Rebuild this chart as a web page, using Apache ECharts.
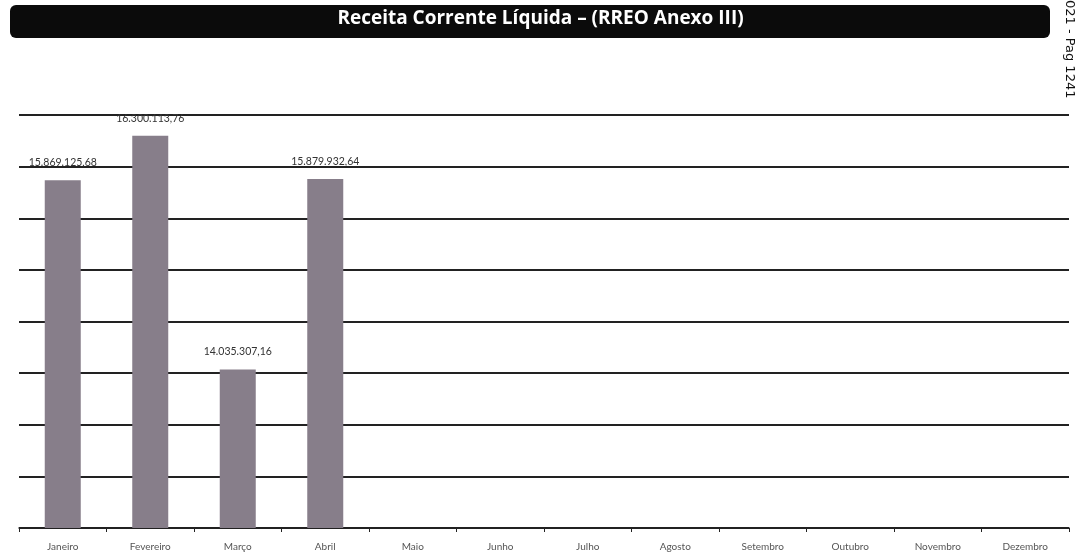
<!DOCTYPE html>
<html>
<head>
<meta charset="utf-8">
<title>Receita Corrente Líquida</title>
<script src="https://cdn.jsdelivr.net/npm/echarts@6/dist/echarts.min.js"></script>
<style>
  html, body { margin: 0; padding: 0; background: #fff; }
  #chart { width: 1081px; height: 556px; }
</style>
</head>
<body>
<div id="chart"></div>
<script>
// dados (RCL mensal)
var meses = ['Janeiro', 'Fevereiro', 'Março', 'Abril', 'Maio', 'Junho', 'Julho', 'Agosto', 'Setembro', 'Outubro', 'Novembro', 'Dezembro']
var receita = [15869125.68, 16300113.76, 14035307.16, 15879932.64, null, null, null, null, null, null, null, null]
var eixoMin = 12500000
var eixoMax = 16500000
var eixoPasso = 500000

function formatBR(v) {
  var parts = v.toFixed(2).split('.')
  return parts[0].replace(/\B(?=(\d{3})+(?!\d))/g, '.') + ',' + parts[1]
}

var chart = echarts.init(document.getElementById('chart'))

chart.setOption({
  animation: false,
  backgroundColor: '#fff',
  graphic: [
    {
      type: 'rect',
      left: 10,
      top: 5,
      shape: { width: 1040, height: 33, r: 6 },
      style: { fill: '#0b0b0b' }
    },
    {
      type: 'text',
      left: 'center',
      top: 9,
      style: {
        text: 'Receita Corrente Líquida – (RREO Anexo III)',
        fill: '#fff',
        font: 'bold 19px "Open Sans", sans-serif'
      }
    },
    {
      type: 'text',
      x: 1076,
      y: 0,
      rotation: -Math.PI / 2,
      style: {
        text: '021 - Pag 1241',
        fill: '#111',
        font: '13px "DejaVu Sans", sans-serif'
      }
    }
  ],
  grid: {
    left: 19,
    right: 12,
    top: 115,
    bottom: 28
  },
  xAxis: {
    type: 'category',
    data: meses,
    axisLine: {
      lineStyle: { color: '#222', width: 1.5 }
    },
    axisTick: {
      show: true,
      length: 4,
      lineStyle: { color: '#222' }
    },
    axisLabel: {
      color: '#555',
      fontSize: 10,
      fontFamily: 'Lato, sans-serif',
      margin: 14
    }
  },
  yAxis: {
    type: 'value',
    min: eixoMin,
    max: eixoMax,
    interval: eixoPasso,
    axisLine: { show: false },
    axisTick: { show: false },
    axisLabel: { show: false },
    splitLine: {
      lineStyle: { color: '#222', width: 1.8 }
    }
  },
  series: [
    {
      type: 'bar',
      data: receita,
      barWidth: 36,
      itemStyle: {
        color: '#877e8a'
      },
      label: {
        show: true,
        position: 'top',
        distance: 12,
        color: '#333',
        fontSize: 10.5,
        fontFamily: 'Lato, sans-serif',
        formatter: function (p) {
          return p.value == null ? '' : formatBR(p.value)
        }
      }
    }
  ]
})
</script>
</body>
</html>
